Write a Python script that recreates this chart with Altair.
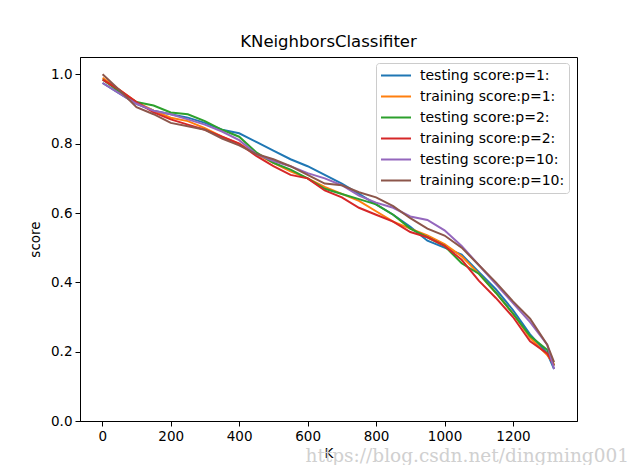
import altair as alt
import pandas as pd

K = [1, 50, 100, 150, 200, 250, 300, 350, 400, 450, 500, 550, 600, 650,
     700, 750, 800, 850, 900, 950, 1000, 1050, 1100, 1150, 1200, 1250, 1300, 1320]

test_p1 = [0.975, 0.945, 0.915, 0.895, 0.885, 0.875, 0.86, 0.84, 0.83, 0.805, 0.78, 0.755, 0.735, 0.71,
           0.685, 0.655, 0.625, 0.595, 0.56, 0.52, 0.50, 0.48, 0.43, 0.38, 0.32, 0.25, 0.195, 0.15]
train_p1 = [0.99, 0.955, 0.92, 0.895, 0.875, 0.865, 0.845, 0.82, 0.80, 0.77, 0.745, 0.72, 0.70, 0.675,
            0.655, 0.635, 0.605, 0.575, 0.555, 0.535, 0.51, 0.475, 0.425, 0.37, 0.31, 0.24, 0.19, 0.165]
test_p2 = [0.985, 0.95, 0.92, 0.91, 0.89, 0.885, 0.865, 0.84, 0.82, 0.775, 0.745, 0.725, 0.70, 0.67,
           0.655, 0.64, 0.625, 0.595, 0.555, 0.53, 0.505, 0.455, 0.425, 0.37, 0.31, 0.245, 0.205, 0.16]
train_p2 = [0.985, 0.955, 0.92, 0.89, 0.87, 0.855, 0.84, 0.82, 0.80, 0.765, 0.735, 0.71, 0.70, 0.665,
            0.645, 0.615, 0.595, 0.575, 0.545, 0.53, 0.505, 0.465, 0.405, 0.355, 0.30, 0.23, 0.195, 0.16]
test_p10 = [0.975, 0.945, 0.915, 0.895, 0.885, 0.87, 0.855, 0.835, 0.81, 0.77, 0.75, 0.735, 0.715, 0.70,
            0.68, 0.65, 0.63, 0.615, 0.59, 0.58, 0.55, 0.505, 0.45, 0.395, 0.34, 0.285, 0.22, 0.15]
train_p10 = [1.0, 0.955, 0.905, 0.885, 0.86, 0.85, 0.84, 0.815, 0.795, 0.77, 0.755, 0.735, 0.71, 0.685,
             0.68, 0.66, 0.645, 0.62, 0.585, 0.555, 0.535, 0.50, 0.45, 0.40, 0.345, 0.295, 0.22, 0.17]

series_names = ["testing score:p=1:", "training score:p=1:", "testing score:p=2:",
                "training score:p=2:", "testing score:p=10:", "training score:p=10:"]
series_values = [test_p1, train_p1, test_p2, train_p2, test_p10, train_p10]
colors = ["#1f77b4", "#ff7f0e", "#2ca02c", "#d62728", "#9467bd", "#8c564b"]

x_ticks = [0, 200, 400, 600, 800, 1000, 1200]
y_ticks = [0.0, 0.2, 0.4, 0.6, 0.8, 1.0]
watermark = "https://blog.csdn.net/dingming001"

rows = []
for name, vals in zip(series_names, series_values):
    for k, v in zip(K, vals):
        rows.append({"K": k, "score": v, "series": name})
df = pd.DataFrame(rows)

lines = alt.Chart(df).mark_line(strokeWidth=2).encode(
    x=alt.X("K:Q", title="K",
            scale=alt.Scale(domain=[-65, 1387], nice=False, zero=False),
            axis=alt.Axis(values=x_ticks, format="d", titlePadding=4)),
    y=alt.Y("score:Q", title="score",
            scale=alt.Scale(domain=[0, 1.05], nice=False),
            axis=alt.Axis(values=y_ticks, format=".1f", titlePadding=8)),
    color=alt.Color("series:N",
                    scale=alt.Scale(domain=series_names, range=colors),
                    legend=alt.Legend(title=None, orient="none", legendX=296, legendY=6,
                                      symbolType="stroke", symbolSize=900,
                                      symbolStrokeWidth=2, clipHeight=17, rowPadding=4,
                                      labelFontSize=14, labelFont="DejaVu Sans",
                                      labelColor="black", padding=4,
                                      fillColor="white", strokeColor="#cccccc",
                                      cornerRadius=3, labelOffset=8)),
    order=alt.Order("K:Q"),
)

wm = alt.Chart(pd.DataFrame({"t": [watermark]})).mark_text(
    align="right", baseline="alphabetic", font="DejaVu Serif", fontSize=18.5,
    color="#d0d0d0",
).encode(x=alt.value(549), y=alt.value(405), text="t:N")

chart = alt.layer(lines, wm).properties(
    width=497, height=364,
    title=alt.TitleParams("KNeighborsClassifiter", fontSize=16.5, fontWeight="normal",
                          font="DejaVu Sans", color="black", offset=7),
    autosize=alt.AutoSizeParams(type="none"),
    padding={"left": 72, "top": 49, "right": 55, "bottom": 44},
).configure_view(stroke="black", strokeWidth=1).configure_axis(
    grid=False, domainColor="black", tickColor="black", labelColor="black",
    titleColor="black", tickSize=5, labelFont="DejaVu Sans", labelFontSize=13.5,
    titleFont="DejaVu Sans", titleFontSize=13.5, titleFontWeight="normal", labelPadding=3,
)

chart.save("out.html", embed_options={"renderer": "svg", "actions": False})
